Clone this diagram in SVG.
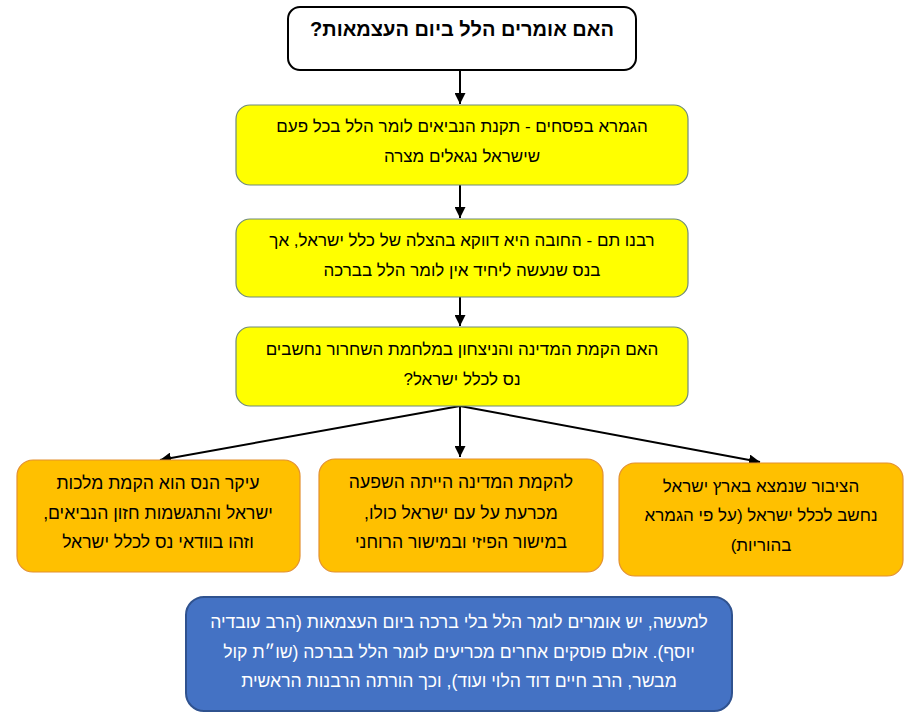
<svg xmlns="http://www.w3.org/2000/svg" width="921" height="716" viewBox="0 0 921 716">
<defs>
<style>
text{font-family:"Liberation Sans","DejaVu Sans",sans-serif;font-size:17px;fill:#000;text-anchor:middle;direction:rtl;unicode-bidi:embed}
.title{font-size:20px;font-weight:bold}
.big{font-size:17.6px}
.white{fill:#fff;font-size:17.6px}
.yel{fill:#ffff00;stroke:#6f8a7c;stroke-width:1.2}
.ora{fill:#ffc000;stroke:#e3902f;stroke-width:1.2}
.blu{fill:#4472c4;stroke:#2f528f;stroke-width:2}
.top{fill:#fff;stroke:#000;stroke-width:2}
.conn{stroke:#000;stroke-width:2;fill:none;marker-end:url(#ah)}
</style>
<marker id="ah" viewBox="0 0 10 10" refX="10" refY="5" markerWidth="5.5" markerHeight="5.5" orient="auto" markerUnits="strokeWidth">
<path d="M0,0 L10,5 L0,10 z" fill="#000"/>
</marker>
</defs>
<rect width="921" height="716" fill="#fff"/>
<g id="connectors">
<line class="conn" x1="460" y1="70" x2="460" y2="104"/>
<line class="conn" x1="460" y1="185" x2="460" y2="218"/>
<line class="conn" x1="460" y1="297" x2="460" y2="326"/>
<line class="conn" x1="460" y1="406" x2="160" y2="460"/>
<line class="conn" x1="460" y1="406" x2="460" y2="457"/>
<line class="conn" x1="460" y1="406" x2="760" y2="462"/>
</g>
<g id="n_title">
<rect class="top" x="288" y="7" width="348" height="63" rx="12"/>
<text class="title" x="462" y="36">האם אומרים הלל ביום העצמאות?</text>
</g>
<g id="n_gemara">
<rect class="yel" x="236" y="105" width="452" height="80" rx="14"/>
<text x="462" y="132">הגמרא בפסחים - תקנת הנביאים לומר הלל בכל פעם</text>
<text x="462" y="162">שישראל נגאלים מצרה</text>
</g>
<g id="n_rabenu_tam">
<rect class="yel" x="236" y="219" width="452" height="78" rx="14"/>
<text x="462" y="246">רבנו תם - החובה היא דווקא בהצלה של כלל ישראל, אך</text>
<text x="462" y="276">בנס שנעשה ליחיד אין לומר הלל בברכה</text>
</g>
<g id="n_question">
<rect class="yel" x="236" y="327" width="452" height="79" rx="14"/>
<text x="462" y="355">האם הקמת המדינה והניצחון במלחמת השחרור נחשבים</text>
<text x="462" y="385">נס לכלל ישראל?</text>
</g>
<g id="n_left">
<rect class="ora" x="17" y="460" width="283" height="112" rx="16"/>
<text class="big" x="158" y="489">עיקר הנס הוא הקמת מלכות</text>
<text class="big" x="158" y="519">ישראל והתגשמות חזון הנביאים,</text>
<text class="big" x="158" y="548">וזהו בוודאי נס לכלל ישראל</text>
</g>
<g id="n_middle">
<rect class="ora" x="319" y="459" width="284" height="113" rx="16"/>
<text class="big" x="461" y="488">להקמת המדינה הייתה השפעה</text>
<text class="big" x="461" y="519">מכרעת על עם ישראל כולו,</text>
<text class="big" x="461" y="548">במישור הפיזי ובמישור הרוחני</text>
</g>
<g id="n_right">
<rect class="ora" x="619" y="463" width="284" height="113" rx="16"/>
<text x="761" y="492">הציבור שנמצא בארץ ישראל</text>
<text x="761" y="521">נחשב לכלל ישראל (על פי הגמרא</text>
<text x="761" y="551">בהוריות)</text>
</g>
<g id="n_bottom">
<rect class="blu" x="186" y="597" width="546" height="114" rx="18"/>
<text class="white" x="459" y="628">למעשה, יש אומרים לומר הלל בלי ברכה ביום העצמאות (הרב עובדיה</text>
<text class="white" x="459" y="658">יוסף). אולם פוסקים אחרים מכריעים לומר הלל בברכה (שו״ת קול</text>
<text class="white" x="459" y="687">מבשר, הרב חיים דוד הלוי ועוד), וכך הורתה הרבנות הראשית</text>
</g>
</svg>
